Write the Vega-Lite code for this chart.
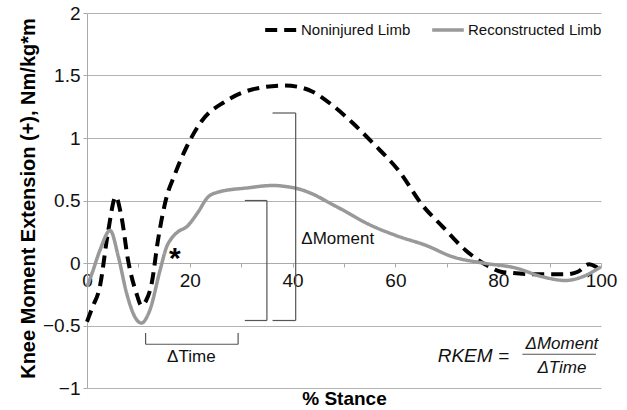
{
  "$schema": "https://vega.github.io/schema/vega-lite/v6.json",
  "width": 514,
  "height": 375,
  "autosize": {"type": "none"},
  "padding": {"left": 87, "top": 13, "right": 26, "bottom": 22},
  "background": "white",
  "config": {
    "view": {"stroke": null},
    "font": "Liberation Sans",
    "axis": {"labelFont": "Liberation Sans", "titleFont": "Liberation Sans", "labelColor": "#111", "titleColor": "#000"}
  },
  "datasets": {
    "curves": [
      {"pct": 0, "moment": -0.47, "limb": "Noninjured Limb"},
      {"pct": 1, "moment": -0.36, "limb": "Noninjured Limb"},
      {"pct": 2.5, "moment": -0.19, "limb": "Noninjured Limb"},
      {"pct": 4.1, "moment": 0.25, "limb": "Noninjured Limb"},
      {"pct": 5.6, "moment": 0.53, "limb": "Noninjured Limb"},
      {"pct": 6.7, "moment": 0.37, "limb": "Noninjured Limb"},
      {"pct": 8.0, "moment": 0.02, "limb": "Noninjured Limb"},
      {"pct": 9.6, "moment": -0.24, "limb": "Noninjured Limb"},
      {"pct": 10.6, "moment": -0.34, "limb": "Noninjured Limb"},
      {"pct": 11.5, "moment": -0.3, "limb": "Noninjured Limb"},
      {"pct": 12.6, "moment": -0.16, "limb": "Noninjured Limb"},
      {"pct": 13.8, "moment": 0.18, "limb": "Noninjured Limb"},
      {"pct": 15.5, "moment": 0.53, "limb": "Noninjured Limb"},
      {"pct": 17, "moment": 0.7, "limb": "Noninjured Limb"},
      {"pct": 19.4, "moment": 0.93, "limb": "Noninjured Limb"},
      {"pct": 22.4, "moment": 1.14, "limb": "Noninjured Limb"},
      {"pct": 26.8, "moment": 1.29, "limb": "Noninjured Limb"},
      {"pct": 32.3, "moment": 1.39, "limb": "Noninjured Limb"},
      {"pct": 38.4, "moment": 1.42, "limb": "Noninjured Limb"},
      {"pct": 41, "moment": 1.41, "limb": "Noninjured Limb"},
      {"pct": 43.9, "moment": 1.37, "limb": "Noninjured Limb"},
      {"pct": 47.8, "moment": 1.26, "limb": "Noninjured Limb"},
      {"pct": 51.7, "moment": 1.12, "limb": "Noninjured Limb"},
      {"pct": 55.6, "moment": 0.96, "limb": "Noninjured Limb"},
      {"pct": 60.8, "moment": 0.73, "limb": "Noninjured Limb"},
      {"pct": 65.3, "moment": 0.46, "limb": "Noninjured Limb"},
      {"pct": 69.2, "moment": 0.29, "limb": "Noninjured Limb"},
      {"pct": 73.7, "moment": 0.1, "limb": "Noninjured Limb"},
      {"pct": 78.3, "moment": -0.03, "limb": "Noninjured Limb"},
      {"pct": 80.5, "moment": -0.07, "limb": "Noninjured Limb"},
      {"pct": 82.8, "moment": -0.08, "limb": "Noninjured Limb"},
      {"pct": 88, "moment": -0.09, "limb": "Noninjured Limb"},
      {"pct": 93.1, "moment": -0.09, "limb": "Noninjured Limb"},
      {"pct": 95.5, "moment": -0.07, "limb": "Noninjured Limb"},
      {"pct": 97.7, "moment": -0.01, "limb": "Noninjured Limb"},
      {"pct": 99, "moment": -0.03, "limb": "Noninjured Limb"},
      {"pct": 100, "moment": -0.06, "limb": "Noninjured Limb"},
      {"pct": 0, "moment": -0.19, "limb": "Reconstructed Limb"},
      {"pct": 1, "moment": -0.08, "limb": "Reconstructed Limb"},
      {"pct": 2.5, "moment": 0.1, "limb": "Reconstructed Limb"},
      {"pct": 4.5, "moment": 0.26, "limb": "Reconstructed Limb"},
      {"pct": 6.1, "moment": 0.05, "limb": "Reconstructed Limb"},
      {"pct": 7.7, "moment": -0.24, "limb": "Reconstructed Limb"},
      {"pct": 9.3, "moment": -0.43, "limb": "Reconstructed Limb"},
      {"pct": 10.6, "moment": -0.48, "limb": "Reconstructed Limb"},
      {"pct": 12.2, "moment": -0.38, "limb": "Reconstructed Limb"},
      {"pct": 14.2, "moment": -0.06, "limb": "Reconstructed Limb"},
      {"pct": 15.5, "moment": 0.13, "limb": "Reconstructed Limb"},
      {"pct": 16.5, "moment": 0.2, "limb": "Reconstructed Limb"},
      {"pct": 17.7, "moment": 0.25, "limb": "Reconstructed Limb"},
      {"pct": 19.4, "moment": 0.29, "limb": "Reconstructed Limb"},
      {"pct": 21.5, "moment": 0.4, "limb": "Reconstructed Limb"},
      {"pct": 23.6, "moment": 0.53, "limb": "Reconstructed Limb"},
      {"pct": 25.8, "moment": 0.57, "limb": "Reconstructed Limb"},
      {"pct": 31, "moment": 0.6, "limb": "Reconstructed Limb"},
      {"pct": 36.2, "moment": 0.62, "limb": "Reconstructed Limb"},
      {"pct": 39, "moment": 0.61, "limb": "Reconstructed Limb"},
      {"pct": 41.4, "moment": 0.59, "limb": "Reconstructed Limb"},
      {"pct": 44, "moment": 0.55, "limb": "Reconstructed Limb"},
      {"pct": 47.2, "moment": 0.48, "limb": "Reconstructed Limb"},
      {"pct": 50.4, "moment": 0.41, "limb": "Reconstructed Limb"},
      {"pct": 54.3, "moment": 0.32, "limb": "Reconstructed Limb"},
      {"pct": 60.1, "moment": 0.22, "limb": "Reconstructed Limb"},
      {"pct": 66, "moment": 0.14, "limb": "Reconstructed Limb"},
      {"pct": 71.1, "moment": 0.05, "limb": "Reconstructed Limb"},
      {"pct": 77, "moment": 0.0, "limb": "Reconstructed Limb"},
      {"pct": 83.4, "moment": -0.04, "limb": "Reconstructed Limb"},
      {"pct": 88.6, "moment": -0.11, "limb": "Reconstructed Limb"},
      {"pct": 93.1, "moment": -0.14, "limb": "Reconstructed Limb"},
      {"pct": 96.4, "moment": -0.11, "limb": "Reconstructed Limb"},
      {"pct": 100, "moment": -0.03, "limb": "Reconstructed Limb"}
    ],
    "brackets": [
      {"x": 30.7, "x2": 35, "y": 0.5, "y2": 0.5},
      {"x": 35, "x2": 35, "y": 0.5, "y2": -0.46},
      {"x": 30.7, "x2": 35, "y": -0.46, "y2": -0.46},
      {"x": 36.1, "x2": 40.6, "y": 1.2, "y2": 1.2},
      {"x": 40.6, "x2": 40.6, "y": 1.2, "y2": -0.46},
      {"x": 36.1, "x2": 40.6, "y": -0.46, "y2": -0.46},
      {"x": 11.4, "x2": 29.4, "y": -0.65, "y2": -0.65},
      {"x": 11.4, "x2": 11.4, "y": -0.65, "y2": -0.56},
      {"x": 29.4, "x2": 29.4, "y": -0.65, "y2": -0.56},
      {"x": 84.7, "x2": 99, "y": -0.73, "y2": -0.73}
    ],
    "labels": [
      {"x": 41.7, "y": 0.19, "text": "ΔMoment", "side": "left"},
      {"x": 20.3, "y": -0.75, "text": "ΔTime", "side": "center"}
    ],
    "formula": [
      {"x": 82.1, "y": -0.74, "text": "RKEM =", "part": "lhs"},
      {"x": 92.4, "y": -0.65, "text": "ΔMoment", "part": "num"},
      {"x": 92.4, "y": -0.84, "text": "ΔTime", "part": "den"}
    ],
    "marks": [
      {"x": 17.1, "y": 0.03, "text": "*"}
    ]
  },
  "layer": [
    {
      "data": {"name": "curves"},
      "mark": {"type": "line", "interpolate": "monotone"},
      "encoding": {
        "x": {
          "field": "pct", "type": "quantitative",
          "scale": {"domain": [0, 100], "nice": false},
          "axis": {
            "title": "% Stance",
            "titleFontSize": 19, "titleFontWeight": "bold",
            "titleY": 126, "titleBaseline": "top",
            "values": [0, 10, 20, 30, 40, 50, 60, 70, 80, 90, 100],
            "labelExpr": "datum.value % 20 == 0 ? datum.label : ''",
            "labelFontSize": 19, "labelPadding": 4, "labelFlush": false,
            "offset": -125, "grid": false,
            "domainColor": "#aaaaaa", "tickColor": "#aaaaaa", "tickSize": 4
          }
        },
        "y": {
          "field": "moment", "type": "quantitative",
          "scale": {"domain": [-1, 2], "nice": false},
          "axis": {
            "title": "Knee Moment Extension (+), Nm/kg*m",
            "titleFontSize": 20, "titleFontWeight": "bold",
            "titleX": -59, "titleY": 185, "titleBaseline": "middle", "titleAngle": -90,
            "values": [-1, -0.5, 0, 0.5, 1, 1.5, 2],
            "format": ".1~f",
            "labelFontSize": 19, "labelPadding": 3,
            "grid": true, "gridColor": "#b3b3b3",
            "domainColor": "#aaaaaa", "tickColor": "#aaaaaa", "tickSize": 4
          }
        },
        "color": {
          "field": "limb", "type": "nominal",
          "scale": {"domain": ["Noninjured Limb", "Reconstructed Limb"], "range": ["#000000", "#999999"]},
          "legend": {
            "title": null, "orient": "none", "direction": "horizontal",
            "legendX": 176, "legendY": -1,
            "symbolType": "stroke", "symbolSize": 1000, "symbolStrokeWidth": 3.5,
            "labelFontSize": 15, "labelFont": "Liberation Sans", "labelColor": "#111",
            "labelOffset": 2, "columnPadding": 14
          }
        },
        "strokeDash": {
          "field": "limb", "type": "nominal",
          "scale": {"domain": ["Noninjured Limb", "Reconstructed Limb"], "range": [[12, 7], [1, 0]]},
          "legend": {
            "title": null, "orient": "none", "direction": "horizontal",
            "legendX": 176, "legendY": -1,
            "symbolType": "stroke", "symbolSize": 1000, "symbolStrokeWidth": 3.5,
            "labelFontSize": 15, "labelFont": "Liberation Sans", "labelColor": "#111",
            "labelOffset": 2, "columnPadding": 14
          }
        },
        "strokeWidth": {
          "field": "limb", "type": "nominal",
          "scale": {"domain": ["Noninjured Limb", "Reconstructed Limb"], "range": [4, 3.5]},
          "legend": null
        }
      }
    },
    {
      "data": {"name": "brackets"},
      "mark": {"type": "rule", "color": "#555555", "strokeWidth": 1.2},
      "encoding": {
        "x": {"field": "x", "type": "quantitative"},
        "x2": {"field": "x2"},
        "y": {"field": "y", "type": "quantitative"},
        "y2": {"field": "y2"}
      }
    },
    {
      "data": {"name": "labels"},
      "transform": [{"filter": "datum.side == 'left'"}],
      "mark": {"type": "text", "fontSize": 17, "baseline": "middle", "align": "left", "color": "#111"},
      "encoding": {
        "x": {"field": "x", "type": "quantitative"},
        "y": {"field": "y", "type": "quantitative"},
        "text": {"field": "text"}
      }
    },
    {
      "data": {"name": "labels"},
      "transform": [{"filter": "datum.side == 'center'"}],
      "mark": {"type": "text", "fontSize": 17, "baseline": "middle", "align": "center", "color": "#111"},
      "encoding": {
        "x": {"field": "x", "type": "quantitative"},
        "y": {"field": "y", "type": "quantitative"},
        "text": {"field": "text"}
      }
    },
    {
      "data": {"name": "formula"},
      "transform": [{"filter": "datum.part == 'lhs'"}],
      "mark": {"type": "text", "fontSize": 19, "fontStyle": "italic", "baseline": "middle", "align": "right", "color": "#111"},
      "encoding": {
        "x": {"field": "x", "type": "quantitative"},
        "y": {"field": "y", "type": "quantitative"},
        "text": {"field": "text"}
      }
    },
    {
      "data": {"name": "formula"},
      "transform": [{"filter": "datum.part != 'lhs'"}],
      "mark": {"type": "text", "fontSize": 17, "fontStyle": "italic", "baseline": "middle", "align": "center", "color": "#111"},
      "encoding": {
        "x": {"field": "x", "type": "quantitative"},
        "y": {"field": "y", "type": "quantitative"},
        "text": {"field": "text"}
      }
    },
    {
      "data": {"name": "marks"},
      "mark": {"type": "text", "fontSize": 30, "fontWeight": "bold", "baseline": "middle", "align": "center", "color": "#000"},
      "encoding": {
        "x": {"field": "x", "type": "quantitative"},
        "y": {"field": "y", "type": "quantitative"},
        "text": {"field": "text"}
      }
    }
  ]
}
